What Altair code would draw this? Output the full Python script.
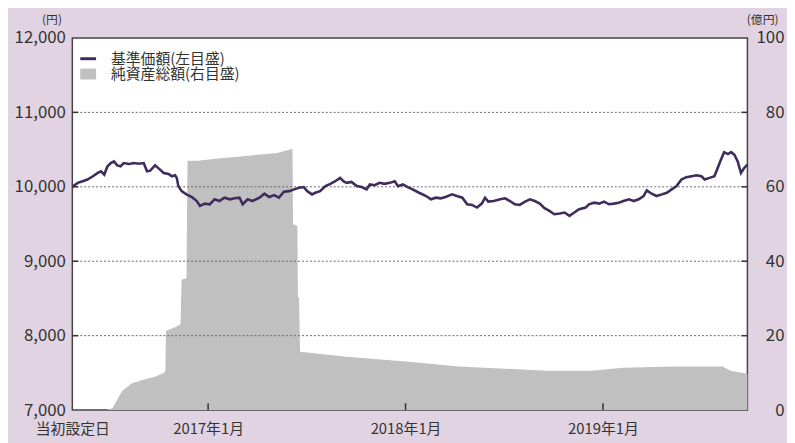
import altair as alt
import pandas as pd

# ---- data ----
NAV_DATES = [
    "2016-04-25", "2016-05-05", "2016-05-14", "2016-05-23", "2016-06-02", "2016-06-11",
    "2016-06-17", "2016-06-23", "2016-06-29", "2016-07-05", "2016-07-11", "2016-07-17",
    "2016-07-23", "2016-07-29", "2016-08-08", "2016-08-17", "2016-08-26", "2016-09-04",
    "2016-09-10", "2016-09-16", "2016-09-25", "2016-10-02", "2016-10-11", "2016-10-20",
    "2016-10-26", "2016-11-01", "2016-11-04", "2016-11-07", "2016-11-13", "2016-11-22",
    "2016-12-02", "2016-12-11", "2016-12-17", "2016-12-26", "2017-01-04", "2017-01-13",
    "2017-01-22", "2017-01-31", "2017-02-10", "2017-02-19", "2017-02-28", "2017-03-06",
    "2017-03-15", "2017-03-24", "2017-04-06", "2017-04-15", "2017-04-24", "2017-05-03",
    "2017-05-12", "2017-05-21", "2017-05-31", "2017-06-09", "2017-06-18", "2017-06-27",
    "2017-07-03", "2017-07-12", "2017-07-18", "2017-07-27", "2017-08-06", "2017-08-15",
    "2017-08-24", "2017-09-02", "2017-09-08", "2017-09-14", "2017-09-23", "2017-10-03",
    "2017-10-12", "2017-10-21", "2017-10-27", "2017-11-05", "2017-11-14", "2017-11-23",
    "2017-12-03", "2017-12-12", "2017-12-18", "2017-12-27", "2018-01-05", "2018-01-14",
    "2018-01-26", "2018-02-08", "2018-02-17", "2018-02-26", "2018-03-07", "2018-03-16",
    "2018-03-28", "2018-04-06", "2018-04-16", "2018-04-25", "2018-05-04", "2018-05-13",
    "2018-05-22", "2018-05-28", "2018-06-03", "2018-06-13", "2018-06-25", "2018-07-04",
    "2018-07-13", "2018-07-22", "2018-07-31", "2018-08-10", "2018-08-19", "2018-08-28",
    "2018-09-06", "2018-09-15", "2018-09-24", "2018-10-03", "2018-10-13", "2018-10-22",
    "2018-10-31", "2018-11-09", "2018-11-18", "2018-11-30", "2018-12-06", "2018-12-16",
    "2018-12-25", "2019-01-03", "2019-01-12", "2019-01-21", "2019-01-30", "2019-02-08",
    "2019-02-18", "2019-02-27", "2019-03-08", "2019-03-17", "2019-03-23", "2019-04-01",
    "2019-04-10", "2019-04-20", "2019-04-29", "2019-05-08", "2019-05-17", "2019-05-26",
    "2019-06-04", "2019-06-14", "2019-06-23", "2019-07-02", "2019-07-08", "2019-07-17",
    "2019-07-26", "2019-08-01", "2019-08-07", "2019-08-13", "2019-08-20", "2019-08-26",
    "2019-09-01", "2019-09-07", "2019-09-13", "2019-09-19", "2019-09-25",
]
NAV_VALUES = [
    10000, 10053, 10075, 10098, 10142, 10186,
    10208, 10164, 10275, 10319, 10341, 10288,
    10275, 10319, 10306, 10319, 10310, 10319,
    10208, 10217, 10288, 10244, 10186, 10173,
    10142, 10155, 10120, 10009, 9942, 9898,
    9863, 9809, 9743, 9774, 9765, 9832,
    9809, 9854, 9832, 9845, 9854, 9765,
    9832, 9809, 9854, 9907, 9863, 9889,
    9854, 9934, 9942, 9965, 9987, 9996,
    9942, 9898, 9920, 9942, 10009, 10040,
    10075, 10120, 10075, 10053, 10066, 10009,
    9996, 9965, 10031, 10022, 10053, 10040,
    10053, 10075, 10009, 10031, 9996, 9965,
    9920, 9876, 9832, 9854, 9845, 9863,
    9898, 9876, 9854, 9765, 9756, 9721,
    9774, 9854, 9801, 9809, 9832, 9845,
    9809, 9765, 9756, 9801, 9832, 9809,
    9774, 9712, 9677, 9632, 9641, 9654,
    9610, 9654, 9699, 9721, 9765, 9787,
    9774, 9801, 9765, 9774, 9787, 9809,
    9832, 9809, 9832, 9876, 9952, 9907,
    9876, 9898, 9920, 9965, 10009, 10098,
    10129, 10142, 10155, 10142, 10098, 10120,
    10142, 10253, 10363, 10465, 10439, 10465,
    10430, 10341, 10186, 10253, 10297,
]

AUM_DATES = ["2016-04-25", "2016-06-27", "2016-07-08", "2016-07-26", "2016-08-13", "2016-08-31",
             "2016-09-26", "2016-10-12", "2016-10-14", "2016-10-15", "2016-11-02", "2016-11-11",
             "2016-11-13", "2016-11-22", "2016-11-24", "2016-12-14", "2017-01-19", "2017-02-25",
             "2017-04-02", "2017-05-09", "2017-06-06", "2017-06-07", "2017-06-15", "2017-06-16",
             "2017-06-18", "2017-06-20", "2017-09-09", "2018-01-07", "2018-04-09", "2018-09-21",
             "2018-12-10", "2019-02-08", "2019-05-11", "2019-08-10", "2019-08-25", "2019-09-25"]
AUM_VALUES = [0, 0, 0.5, 5.1, 7.2, 8.0,
              9.0, 10.1, 10.6, 21.3, 22.3, 23.1,
              35.1, 35.4, 67.0, 67.0, 67.6, 68.1,
              68.6, 69.1, 70.2, 50.0, 49.5, 30.3,
              30.3, 15.7, 14.4, 13.0, 11.7, 10.6,
              10.6, 11.4, 11.7, 11.7, 10.6, 9.8]

LEFT_TICKS = [7000, 8000, 9000, 10000, 11000, 12000]
RIGHT_TICKS = [0, 20, 40, 60, 80, 100]
GRID_VALUES = [8000, 9000, 10000, 11000]
X_TICK_DATES = ["2016-04-25", "2017-01-01", "2018-01-01", "2019-01-01"]
X_TICK_LABELS = ["当初設定日", "2017年1月", "2018年1月", "2019年1月"]
LEGEND_LABELS = ["基準価額(左目盛)", "純資産総額(右目盛)"]
LEFT_UNIT = "(円)"
RIGHT_UNIT = "(億円)"

# ---- styling ----
FONT = "Noto Sans CJK JP"
LINE_COLOR = "#3e2d5c"
AREA_COLOR = "#c0c0c0"
BG = "#e1d3e1"
W, H = 682, 376


def dt(s):
    y, m, d = (int(p) for p in s.split("-"))
    return alt.DateTime(year=y, month=m, date=d, utc=True)


nav_df = pd.DataFrame({"date": NAV_DATES, "nav": NAV_VALUES})
aum_df = pd.DataFrame({"date": AUM_DATES, "aum": AUM_VALUES})
grid_df = pd.DataFrame({"v": GRID_VALUES})
xt_df = pd.DataFrame({"date": X_TICK_DATES[1:]})
leg_df = pd.DataFrame({"label": LEGEND_LABELS})

label_expr = "''"
for d, lab in reversed(list(zip(X_TICK_DATES, X_TICK_LABELS))):
    label_expr = f"utcFormat(datum.value, '%Y-%m-%d') == '{d}' ? '{lab}' : ({label_expr})"

xscale = alt.Scale(type="utc", domain=[dt(NAV_DATES[0]), dt(NAV_DATES[-1])], nice=False)
x_axis = alt.Axis(values=[dt(s) for s in X_TICK_DATES], labelExpr=label_expr,
                  labelFlush=False, labelOverlap=False, labelFontSize=15,
                  labelPadding=12, labelColor="#333", title=None, grid=False,
                  ticks=False, domain=False)
yleft = alt.Scale(domain=[7000, 12000], nice=False, zero=False)
yright = alt.Scale(domain=[0, 100], nice=False, zero=True)

area = alt.Chart(aum_df).mark_area(color=AREA_COLOR, opacity=1, interpolate="linear").encode(
    x=alt.X("date:T", scale=xscale, axis=x_axis),
    y=alt.Y("aum:Q", scale=yright,
            axis=alt.Axis(orient="right", values=RIGHT_TICKS, format="d", labelAlign="right",
                          labelPadding=37, labelFontSize=17, labelColor="#333",
                          title=RIGHT_UNIT, titleAngle=0, titleX=31, titleY=-19,
                          titleAlign="right", titleBaseline="middle", titleFontSize=12,
                          titleFontWeight="normal", titleColor="#333",
                          grid=False, ticks=False, domain=False)),
)

grid = alt.Chart(grid_df).mark_rule(color="#666", strokeWidth=1, strokeDash=[2, 2]).encode(
    y=alt.Y("v:Q", scale=yleft, axis=None),
)

ltick = alt.Chart(grid_df).mark_rule(color="#333", strokeWidth=1.5).encode(
    y=alt.Y("v:Q", scale=yleft, axis=None), x=alt.value(0), x2=alt.value(6),
)
rtick = alt.Chart(grid_df).mark_rule(color="#333", strokeWidth=1.5).encode(
    y=alt.Y("v:Q", scale=yleft, axis=None), x=alt.value(W - 6), x2=alt.value(W),
)

line = alt.Chart(nav_df).mark_line(color=LINE_COLOR, strokeWidth=2.6).encode(
    x=alt.X("date:T", scale=xscale, axis=x_axis),
    y=alt.Y("nav:Q", scale=yleft,
            axis=alt.Axis(orient="left", values=LEFT_TICKS, format=",d", labelFontSize=17,
                          labelPadding=7, labelColor="#333",
                          title=LEFT_UNIT, titleAngle=0, titleX=-21, titleY=-19,
                          titleAlign="center", titleBaseline="middle", titleFontSize=12,
                          titleFontWeight="normal", titleColor="#333",
                          grid=False, ticks=False, domain=False)),
)

xtick = alt.Chart(xt_df).mark_rule(color="#333", strokeWidth=1.5).encode(
    x=alt.X("date:T", scale=xscale, axis=x_axis), y=alt.value(H), y2=alt.value(H - 7),
)

leg_line = alt.Chart(leg_df.iloc[[0]]).mark_rule(color=LINE_COLOR, strokeWidth=3).encode(
    x=alt.value(8), x2=alt.value(24), y=alt.value(21),
)
leg_box = alt.Chart(leg_df.iloc[[1]]).mark_rect(color=AREA_COLOR).encode(
    x=alt.value(8), x2=alt.value(24), y=alt.value(31), y2=alt.value(42),
)
leg_t1 = alt.Chart(leg_df.iloc[[0]]).mark_text(align="left", baseline="middle", fontSize=15,
                                                color="#333", font=FONT).encode(
    x=alt.value(39), y=alt.value(21), text="label:N",
)
leg_t2 = alt.Chart(leg_df.iloc[[1]]).mark_text(align="left", baseline="middle", fontSize=15,
                                                color="#333", font=FONT).encode(
    x=alt.value(39), y=alt.value(37), text="label:N",
)

chart = alt.layer(area, grid, ltick, rtick, line, xtick, leg_line, leg_box, leg_t1, leg_t2).resolve_scale(
    y="independent"
).properties(
    width=W, height=H,
    autosize=alt.AutoSizeParams(type="none"),
    padding={"left": 65, "top": 28, "right": 40, "bottom": 31},
    background=BG,
).configure(font=FONT).configure_view(
    fill="white", stroke="#444", strokeWidth=1.5
).configure_axis(labelFont=FONT, titleFont=FONT)

chart.save("out.html", embed_options={"renderer": "svg", "actions": False})
